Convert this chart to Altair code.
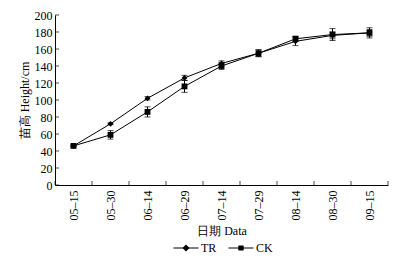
import altair as alt
import pandas as pd

dates = ["05–15", "05–30", "06–14", "06–29", "07–14", "07–29", "08–14", "08–30", "09–15"]
tr = [46, 72, 102, 126, 143, 155, 169, 176, 179]
tr_err = [1, 1, 2, 3, 3, 4, 5, 4, 4]
ck = [46, 59, 86, 116, 140, 155, 172, 177, 179]
ck_err = [1, 5, 6, 7, 4, 4, 3, 7, 6]
series = ["TR", "CK"]
y_ticks = list(range(0, 201, 20))

rows = []
for s, vals, errs in [("TR", tr, tr_err), ("CK", ck, ck_err)]:
    for d, v, e in zip(dates, vals, errs):
        rows.append({"date": d, "series": s, "h": v, "lo": v - e, "hi": v + e})
df = pd.DataFrame(rows)
cat_df = pd.DataFrame({"date": dates})
ytick_df = pd.DataFrame({"v": y_ticks})

SERIF = "Liberation Serif"
W, H = 333, 170

x_axis = alt.Axis(labelAngle=270, ticks=False, labelPadding=5, labelFontSize=12,
                  titlePadding=5, domainColor="black", title="日期 Data")
y_axis = alt.Axis(values=y_ticks, ticks=False, grid=False, labelPadding=3,
                  labelOverlap=False, labelFontSize=12, tickCount=11,
                  titlePadding=3, domainColor="black", title="苗高 Height/cm")
y_scale = alt.Scale(domain=[0, 200], nice=False)
x_scale = alt.Scale(paddingInner=0, paddingOuter=0)


def X(**kw):
    return alt.X("date:N", sort=dates, scale=x_scale, axis=x_axis, **kw)


def Y(field):
    return alt.Y(field, scale=y_scale, axis=y_axis)


base = alt.Chart(df)

lines = base.mark_line(color="black", strokeWidth=1).encode(x=X(), y=Y("h:Q"), detail="series:N")
err = base.mark_rule(color="black", strokeWidth=1).encode(x=X(), y=Y("lo:Q"), y2="hi:Q")
cap_lo = base.mark_tick(color="black", size=6, thickness=1, orient="horizontal").encode(
    x=X(), y=Y("lo:Q"))
cap_hi = base.mark_tick(color="black", size=6, thickness=1, orient="horizontal").encode(
    x=X(), y=Y("hi:Q"))
points = base.mark_point(filled=True, opacity=1, color="black").encode(
    x=X(), y=Y("h:Q"),
    shape=alt.Shape("series:N", sort=series, legend=None,
                    scale=alt.Scale(domain=series, range=["diamond", "square"])),
    size=alt.value(34))


# legend glyphs: a line with a small marker, drawn with strokes only
def hatch(halfwidth_fn, extent, step=0.04):
    parts = ["M-1,0H1"]
    n = int(round(extent / step))
    for k in range(-n, n + 1):
        yy = k * step
        hw = halfwidth_fn(abs(yy))
        if hw > 0:
            parts.append(f"M{-hw:.3f},{yy:.3f}H{hw:.3f}")
    return "".join(parts)


tr_path = hatch(lambda a: 0.26 - a, 0.24)
ck_path = hatch(lambda a: 0.2, 0.18)

legend_pts = base.mark_point(filled=False, opacity=0, color="black", strokeWidth=1).encode(
    x=X(), y=Y("h:Q"),
    shape=alt.Shape("series:N", sort=series,
                    scale=alt.Scale(domain=series, range=[tr_path, ck_path]),
                    legend=alt.Legend(title=None, orient="none", legendX=118, legendY=220,
                                      direction="horizontal",
                                      symbolSize=625, symbolStrokeWidth=1,
                                      symbolOpacity=1, labelFont=SERIF, labelFontSize=12,
                                      labelColor="black", columnPadding=9, labelOffset=2,
                                      padding=0)))

xticks = alt.Chart(cat_df).mark_tick(color="black", size=4, thickness=1, orient="vertical").encode(
    x=X(bandPosition=0), y=alt.value(H - 2))
xtick_end = alt.Chart(pd.DataFrame({"date": [dates[-1]]})).mark_tick(
    color="black", size=4, thickness=1, orient="vertical").encode(
    x=X(bandPosition=1), y=alt.value(H - 2))
yticks = alt.Chart(ytick_df).mark_tick(color="black", size=4, thickness=1, orient="horizontal").encode(
    y=Y("v:Q"), x=alt.value(2))

chart = alt.layer(lines, err, cap_lo, cap_hi, points, legend_pts, xticks, xtick_end, yticks).resolve_scale(
    shape="independent"
).properties(
    width=W, height=H, padding={"top": 1, "left": 10, "right": 5, "bottom": 2}
).configure_view(stroke=None).configure_axis(
    labelFont=SERIF, titleFont=SERIF, labelFontSize=12, titleFontSize=12,
    labelColor="black", titleColor="black", titleFontWeight="normal"
)

chart.save("out.html", embed_options={"renderer": "svg", "actions": False})
